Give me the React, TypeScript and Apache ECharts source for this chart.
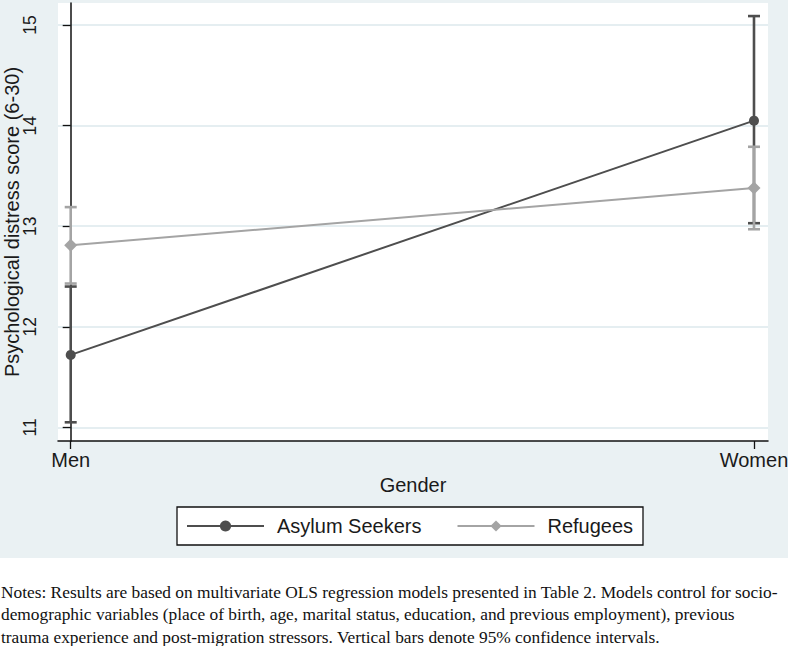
import React, { useEffect, useRef } from "react";
import * as echarts from "echarts";

const categories = ["Men", "Women"];
const asylumMean = [11.72, 14.05];
const asylumLow = [11.05, 13.03];
const asylumHigh = [12.4, 15.09];
const refugeeMean = [12.81, 13.38];
const refugeeLow = [12.43, 12.97];
const refugeeHigh = [13.19, 13.79];
const yTicks = [11, 12, 13, 14, 15];
const seriesNames = ["Asylum Seekers", "Refugees"];
const noteLines = [
  "Notes: Results are based on multivariate OLS regression models presented in Table 2. Models control for socio-",
  "demographic variables (place of birth, age, marital status, education, and previous employment), previous",
  "trauma experience and post-migration stressors. Vertical bars denote 95% confidence intervals.",
];

const DARK = "#4e4e4e";
const LIGHT = "#a4a4a4";
const BG = "#eaf1f3";
const NOTE_FONT = "16.5px 'Liberation Serif'";

function measure(text: string, font: string): number {
  const c = document.createElement("canvas");
  const ctx = c.getContext("2d");
  if (!ctx) return 1;
  ctx.font = font;
  return ctx.measureText(text).width;
}

function errorBarSeries(name: string, low: number[], high: number[], color: string) {
  return {
    type: "custom",
    name,
    data: categories.map((_, i) => [i, low[i], high[i]]),
    encode: { x: 0, y: [1, 2] },
    renderItem: (params: any, api: any) => {
      const x = api.value(0);
      const pLo = api.coord([x, api.value(1)]);
      const pHi = api.coord([x, api.value(2)]);
      const w = 6;
      const style = { stroke: color, lineWidth: 2.6 };
      return {
        type: "group",
        children: [
          { type: "line", shape: { x1: pLo[0], y1: pLo[1], x2: pHi[0], y2: pHi[1] }, style },
          { type: "line", shape: { x1: pLo[0] - w, y1: pLo[1], x2: pLo[0] + w, y2: pLo[1] }, style },
          { type: "line", shape: { x1: pHi[0] - w, y1: pHi[1], x2: pHi[0] + w, y2: pHi[1] }, style },
        ],
      };
    },
    z: 2,
  };
}

export default function App() {
  const ref = useRef<HTMLDivElement>(null);
  useEffect(() => {
    if (!ref.current) return;
    const chart = echarts.init(ref.current, undefined, { renderer: "svg" });
    const w0 = measure(noteLines[0], NOTE_FONT);
    const scaleX = 777 / w0;
    const option: any = {
      animation: false,
      backgroundColor: "#ffffff",
      textStyle: { fontFamily: "'Liberation Sans', Arial, sans-serif" },
      grid: {
        left: 58,
        top: 3,
        right: 20,
        bottom: 205,
        containLabel: false,
        outerBoundsMode: "none",
        show: true,
        backgroundColor: "#ffffff",
        borderWidth: 0,
      },
      graphic: [
        {
          type: "rect",
          z: -10,
          silent: true,
          shape: { x: 0, y: 0, width: 788, height: 558 },
          style: { fill: BG },
        },
        {
          type: "rect",
          z: 0,
          silent: true,
          shape: { x: 177, y: 507, width: 466, height: 38 },
          style: { fill: "#ffffff", stroke: "#111111", lineWidth: 1.3 },
        },
        ...noteLines.map((t, i) => ({
          type: "text",
          x: 1,
          y: 592.5 + i * 22.5,
          scaleX,
          silent: true,
          style: {
            text: t,
            font: NOTE_FONT,
            fill: "#111111",
            textAlign: "left",
            textVerticalAlign: "middle",
          },
        })),
      ],
      legend: {
        data: seriesNames,
        left: 186,
        top: 516,
        padding: 0,
        itemWidth: 77,
        itemHeight: 14,
        itemGap: 35,
        z: 5,
        textStyle: {
          fontSize: 20,
          lineHeight: 20,
          color: "#1a1a1a",
          padding: [0, 0, 0, 8],
          fontFamily: "'Liberation Sans', Arial, sans-serif",
        },
      },
      xAxis: {
        type: "value",
        min: -0.0186,
        max: 1.0205,
        name: "Gender",
        nameLocation: "middle",
        nameGap: 30,
        nameTextStyle: { fontSize: 20, color: "#1a1a1a" },
        axisLine: { show: true, lineStyle: { color: "#111", width: 1.5 } },
        axisTick: { show: true, length: 8, customValues: [0, 1], lineStyle: { color: "#111", width: 1.3 } },
        axisLabel: {
          customValues: [0, 1],
          margin: 9,
          fontSize: 20,
          color: "#1a1a1a",
          formatter: (v: number) => categories[Math.round(v)] ?? "",
        },
        splitLine: { show: false },
      },
      yAxis: {
        type: "value",
        min: 10.864,
        max: 15.22,
        name: "Psychological distress score (6-30)",
        nameLocation: "middle",
        nameRotate: 90,
        nameGap: 36,
        nameMoveOverlap: false,
        nameTextStyle: { fontSize: 20, color: "#1a1a1a" },
        axisLine: { show: true, lineStyle: { color: "#111", width: 1.5 } },
        axisTick: { show: true, length: 8, customValues: yTicks, lineStyle: { color: "#111", width: 1.3 } },
        axisLabel: {
          customValues: yTicks,
          rotate: 90,
          margin: 19,
          fontSize: 17.5,
          color: "#1a1a1a",
        },
        splitLine: { show: true, lineStyle: { color: "#e5eef1", width: 1.8 } },
      },
      series: [
        errorBarSeries("Asylum Seekers CI", asylumLow, asylumHigh, DARK),
        errorBarSeries("Refugees CI", refugeeLow, refugeeHigh, LIGHT),
        {
          type: "line",
          name: seriesNames[0],
          data: categories.map((_, i) => [i, asylumMean[i]]),
          symbol: "circle",
          symbolSize: 10,
          showSymbol: true,
          lineStyle: { color: DARK, width: 2 },
          itemStyle: { color: DARK },
          z: 3,
        },
        {
          type: "line",
          name: seriesNames[1],
          data: categories.map((_, i) => [i, refugeeMean[i]]),
          symbol: "diamond",
          symbolSize: 13,
          showSymbol: true,
          lineStyle: { color: LIGHT, width: 2 },
          itemStyle: { color: LIGHT },
          z: 3,
        },
      ],
    };
    chart.setOption(option);
    return () => chart.dispose();
  }, []);
  return (
    <div
      ref={ref}
      style={{ position: "fixed", left: 0, top: 0, width: 788, height: 646 }}
    />
  );
}
